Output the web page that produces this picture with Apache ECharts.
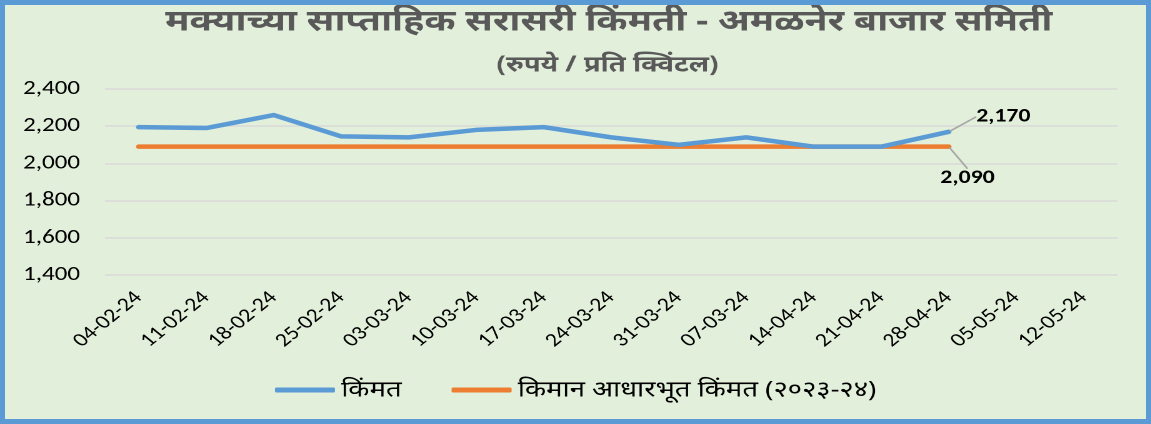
<!DOCTYPE html>
<html><head><meta charset="utf-8">
<script src="https://cdn.jsdelivr.net/npm/echarts@6/dist/echarts.min.js"></script>
<style>
html,body{margin:0;padding:0;background:#E2EFDA;overflow:hidden;}
#wrap{position:relative;width:1151px;height:424px;overflow:hidden;}
#chart{position:absolute;left:0;top:0;width:921px;height:424px;transform:scaleX(1.25);transform-origin:0 0;}
#frame{position:absolute;left:0;top:0;width:1151px;height:424px;box-sizing:border-box;border:5px solid #5B9BD5;pointer-events:none;}
</style></head>
<body><div id="wrap"><div id="chart"></div><div id="frame"></div></div>
<script>
const categories = ['04-02-24','11-02-24','18-02-24','25-02-24','03-03-24','10-03-24','17-03-24','24-03-24','31-03-24','07-03-24','14-04-24','21-04-24','28-04-24','05-05-24','12-05-24'];
const priceValues = [2195, 2190, 2260, 2145, 2140, 2180, 2195, 2140, 2100, 2140, 2090, 2090, 2170, null, null];
const msp = [2090, 2090, 2090, 2090, 2090, 2090, 2090, 2090, 2090, 2090, 2090, 2090, 2090, null, null];
const yTicks = {min: 1400, max: 2400, interval: 200};
const titleText = 'मक्याच्या साप्ताहिक सरासरी किंमती - अमळनेर बाजार समिती';
const subtitleText = '(रुपये / प्रति क्विंटल)';
const seriesNames = ['किंमत', 'किमान आधारभूत किंमत (२०२३-२४)'];

const lastIdx = 12;
const latin = 'Carlito, Lato, "Liberation Sans", sans-serif';
const deva = '"Noto Sans", "Noto Sans Devanagari", sans-serif';
const fmt = v => v.toLocaleString('en-US');
function withLabel(arr, labelCfg) {
  return arr.map((v, i) => i === lastIdx ? {value: v, label: labelCfg} : v);
}
const chart = echarts.init(document.getElementById('chart'), null, {devicePixelRatio: 2});
chart.setOption({
  backgroundColor: '#E2EFDA',
  animation: false,
  title: [
    {text: titleText, left: 482, top: 2, textAlign: 'center',
     textStyle: {fontSize: 30, fontWeight: 'bold', color: '#595959', fontFamily: deva}},
    {text: subtitleText, left: 481, top: 49, textAlign: 'center',
     textStyle: {fontSize: 22, fontWeight: 'bold', color: '#595959', fontFamily: deva}}
  ],
  legend: {
    top: 374, left: 'center',
    itemWidth: 48, itemHeight: 5, itemGap: 40,
    textStyle: {fontSize: 22, color: '#000', fontFamily: deva},
    data: [{name: seriesNames[0], icon: 'roundRect'}, {name: seriesNames[1], icon: 'roundRect'}]
  },
  grid: {left: 84, right: 27, top: 89, bottom: 149},
  xAxis: {
    type: 'category', data: categories, boundaryGap: true,
    axisLine: {show: false}, axisTick: {show: false},
    axisLabel: {rotate: 45, fontSize: 19, color: '#000', margin: 20, fontFamily: latin}
  },
  yAxis: {
    type: 'value', min: yTicks.min, max: yTicks.max, interval: yTicks.interval,
    axisLine: {show: false}, axisTick: {show: false},
    axisLabel: {fontSize: 20, color: '#000', margin: 20, formatter: v => fmt(v), fontFamily: latin},
    splitLine: {lineStyle: {color: '#D9D9D9', width: 1.5}}
  },
  series: [
    {
      name: seriesNames[0], type: 'line', symbol: 'circle', symbolSize: 2, showSymbol: true, z: 3,
      lineStyle: {color: '#5B9BD5', width: 4.5, cap: 'round', join: 'round'},
      itemStyle: {color: '#5B9BD5', borderWidth: 0},
      data: withLabel(priceValues, {show: true, position: 'right', distance: 5, formatter: p => fmt(p.value),
        fontSize: 19, fontWeight: 'bold', color: '#000', fontFamily: latin}),
      labelLayout: {dx: 16, dy: -15},
      labelLine: {show: true, lineStyle: {color: '#A6A6A6', width: 1.5}}
    },
    {
      name: seriesNames[1], type: 'line', symbol: 'circle', symbolSize: 2, showSymbol: true, z: 2,
      lineStyle: {color: '#ED7D31', width: 4.5, cap: 'round'},
      itemStyle: {color: '#ED7D31', borderWidth: 0},
      data: withLabel(msp, {show: true, position: 'bottom', distance: 5, formatter: p => fmt(p.value),
        fontSize: 19, fontWeight: 'bold', color: '#000', fontFamily: latin}),
      labelLayout: {dx: 15, dy: 16},
      labelLine: {show: true, lineStyle: {color: '#A6A6A6', width: 1.5}}
    }
  ]
});
</script></body></html>
